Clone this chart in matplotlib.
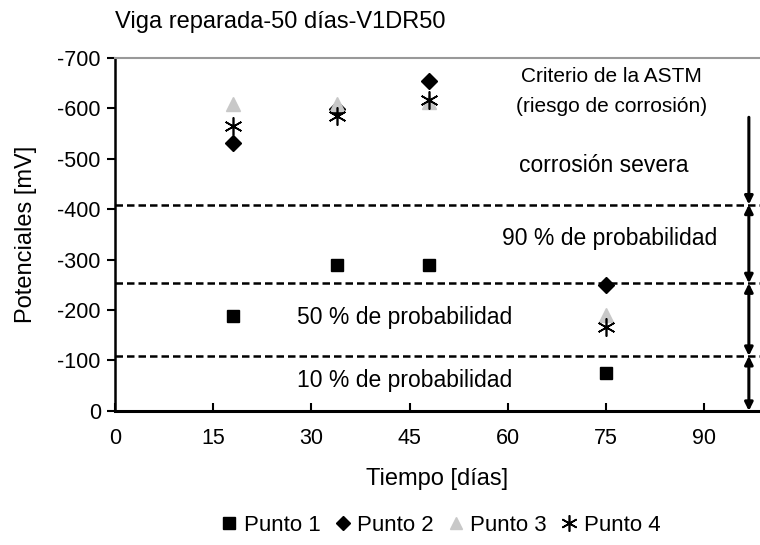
import matplotlib
matplotlib.use("Agg")
import matplotlib.pyplot as plt

plt.rcParams['font.family'] = ['Liberation Sans', 'DejaVu Sans']
plt.rcParams['axes.unicode_minus'] = False

# Data (potentials in mV, days)
dias = [18, 34, 48, 75]
punto1 = [-189, -290, -290, -75]
punto2 = [-532, -598, -653, -250]
punto3 = [-609, -609, -612, -191]
punto4 = [-565, -585, -616, -167]

# ASTM limits
limites = [-109, -253, -409]
x_ticks = [0, 15, 30, 45, 60, 75, 90]
y_ticks = [0, -100, -200, -300, -400, -500, -600, -700]

fig = plt.figure(figsize=(7.6, 5.45), dpi=100)
ax = fig.add_axes([0.151, 0.246, 0.849, 0.648])

fs = 16.5
for lim in limites:
    ax.axhline(lim, color="black", lw=1.8, ls=(0, (3.0, 1.6)), zorder=1)

ax.plot(dias, punto1, ls="none", marker="s", ms=9, color="black", label="Punto 1", zorder=3)
ax.plot(dias, punto2, ls="none", marker="D", ms=8, color="black", label="Punto 2", zorder=3)
ax.plot(dias, punto3, ls="none", marker="^", ms=10, color="#c8c8c8", label="Punto 3", zorder=3)
ax.plot(dias, punto4, ls="none", marker=(6, 2, 0), ms=13, mew=1.2, color="black",
        label="Punto 4", zorder=3)

# arrows (risk zones)
xa = 96.8
arrow = dict(arrowstyle="-|>", color="black", lw=2.2, mutation_scale=12, shrinkA=0, shrinkB=0)
arrow2 = dict(arrowstyle="<|-|>", color="black", lw=2.2, mutation_scale=12, shrinkA=0, shrinkB=0)
ax.annotate("", xy=(xa, limites[2]), xytext=(xa, -582), arrowprops=arrow)
ax.annotate("", xy=(xa, limites[1]), xytext=(xa, limites[2]), arrowprops=arrow2)
ax.annotate("", xy=(xa, limites[0]), xytext=(xa, limites[1]), arrowprops=arrow2)
ax.annotate("", xy=(xa, 0), xytext=(xa, limites[0]), arrowprops=arrow2)

ax.text(75.8, -662, "Criterio de la ASTM", ha="center", va="center", fontsize=15)
ax.text(75.8, -603, "(riesgo de corrosión)", ha="center", va="center", fontsize=15)
ax.text(74.7, -487, "corrosión severa", ha="center", va="center", fontsize=fs)
ax.text(75.5, -342, "90 % de probabilidad", ha="center", va="center", fontsize=fs)
ax.text(44.2, -185, "50 % de probabilidad", ha="center", va="center", fontsize=fs)
ax.text(44.2, -60, "10 % de probabilidad", ha="center", va="center", fontsize=fs)

ax.set_xlim(0, 98.5)
ax.set_ylim(0, -700)
ax.set_xticks(x_ticks)
ax.set_yticks(y_ticks)
ax.set_yticklabels([str(v) for v in y_ticks])
ax.tick_params(axis="x", direction="in", length=6, width=1.5, labelsize=15.5, pad=12)
ax.tick_params(axis="y", direction="out", length=6, width=1.5, labelsize=15.5, pad=4)

ax.spines["right"].set_visible(False)
ax.spines["top"].set_color("#999999")
ax.spines["top"].set_linewidth(1.5)
ax.spines["left"].set_linewidth(1.8)
ax.spines["bottom"].set_linewidth(2.2)

ax.set_xlabel("Tiempo [días]", fontsize=17, labelpad=14)
ax.set_ylabel("Potenciales [mV]", fontsize=17, labelpad=15)
fig.text(0.151, 0.96, "Viga reparada-50 días-V1DR50", fontsize=17, ha="left", va="center")

leg = fig.legend(loc="center", bbox_to_anchor=(0.578, 0.036), ncol=4, frameon=False,
                 fontsize=16, handletextpad=0.15, columnspacing=0.5, handlelength=1.0,
                 markerscale=0.9)

fig.savefig("out.png", dpi=100)
